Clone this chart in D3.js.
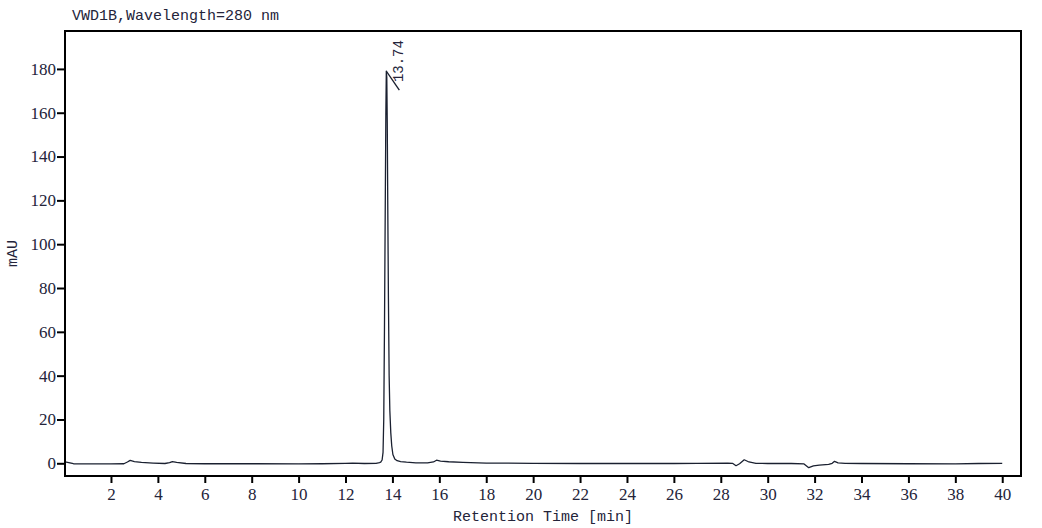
<!DOCTYPE html>
<html>
<head>
<meta charset="utf-8">
<script src="https://cdn.jsdelivr.net/npm/d3@7"></script>
<style>
  html, body { margin: 0; padding: 0; background: #fff; }
  svg { display: block; }
  .tick text { font-family: 'Liberation Serif', 'DejaVu Serif', serif !important; }
</style>
</head>
<body>
<svg id="chart" width="1042" height="528"></svg>
<script>
// ---- data ----
const title = "VWD1B,Wavelength=280 nm";
const xLabel = "Retention Time [min]";
const yLabel = "mAU";
const xTicks = [2,4,6,8,10,12,14,16,18,20,22,24,26,28,30,32,34,36,38,40];
const yTicks = [0,20,40,60,80,100,120,140,160,180];
const peakTime = 13.74;
const peakLabel = "13.74";
const times = [
  0.04, 0.2, 0.4, 1.0, 2.0, 2.55, 2.7, 2.82, 3.0, 3.3, 3.8, 4.3, 4.5, 4.62, 4.8, 5.2,
  6, 8, 10, 11, 12, 12.3, 12.8, 13.3, 13.45,
  13.50, 13.56, 13.60, 13.63, 13.66, 13.69, 13.72, 13.74, 13.76, 13.78, 13.80, 13.83,
  13.86, 13.89, 13.93, 13.97, 14.02, 14.10, 14.20, 14.35, 14.6,
  15.0, 15.5, 15.75, 15.88, 16.05, 16.4, 17.0, 18.0, 20, 22, 24, 26, 27, 28.3, 28.5,
  28.65, 28.8, 29.0, 29.2, 29.5, 30, 31.0, 31.55, 31.75, 31.95, 32.2, 32.6, 32.75,
  32.85, 33.0, 33.3, 34, 36, 38, 39, 40
];
const values = [
  0.6, 0.3, -0.2, -0.3, -0.3, -0.2, 0.6, 1.3, 0.8, 0.4, 0.1, -0.1, 0.3, 0.8, 0.4, -0.1,
  -0.2, -0.2, -0.3, -0.2, 0.0, 0.1, -0.1, 0.0, 0.3,
  0.5, 1.5, 5, 20, 60, 110, 160, 179, 176, 155, 120, 75,
  40, 24, 14, 8, 4, 2, 1.2, 0.8, 0.5,
  0.2, 0.2, 0.6, 1.4, 1.0, 0.7, 0.4, 0.1, 0.0, -0.1, -0.1, -0.1, 0.0, 0.1, 0.0,
  -1.1, -0.2, 1.6, 0.6, 0.0, -0.1, -0.1, -0.3, -2.0, -1.2, -0.8, -0.5, 0.0,
  0.9, 0.2, 0.0, -0.1, -0.2, -0.3, -0.1, 0.0
];

// ---- layout ----
const svg = d3.select("#chart");
const L = 65, R = 1021, T = 31, B = 476;
const x = d3.scaleLinear().domain([0.04, 40.80]).range([L, R]);
const y = d3.scaleLinear().domain([-5.8, 197.3]).range([B, T]);
const textColor = "#24243a";
const serif = "'Liberation Serif', 'DejaVu Serif', serif";
const mono = "'Liberation Mono', 'DejaVu Sans Mono', monospace";

// title
svg.append("text").attr("x", 72).attr("y", 20)
  .attr("font-family", mono).attr("font-size", 15).attr("fill", textColor)
  .text(title);

// line
const pts = times.map((t, i) => [t, values[i]]);
const line = d3.line().x(d => x(d[0])).y(d => y(d[1]));
svg.append("path").datum(pts).attr("d", line)
  .attr("fill", "none").attr("stroke", "#1a2030").attr("stroke-width", 1.3)
  .attr("stroke-linejoin", "round");

// peak marker
const pv = values[times.indexOf(peakTime)];
svg.append("line")
  .attr("x1", x(peakTime)).attr("y1", y(pv))
  .attr("x2", x(peakTime) + 13).attr("y2", y(pv) + 19)
  .attr("stroke", "#1a2030").attr("stroke-width", 1.3);
svg.append("text")
  .attr("transform", `translate(${x(peakTime) + 17},${y(pv) + 11}) rotate(-90)`)
  .attr("font-family", mono).attr("font-size", 14).attr("fill", textColor)
  .text(peakLabel);

// frame
svg.append("rect").attr("x", L).attr("y", T).attr("width", R - L).attr("height", B - T)
  .attr("fill", "none").attr("stroke", "#000").attr("stroke-width", 2);

// axes
const xAxis = svg.append("g").attr("transform", `translate(0,${B})`)
  .call(d3.axisBottom(x).tickValues(xTicks).tickSize(7).tickPadding(5).tickFormat(d3.format("d")));
const yAxis = svg.append("g").attr("transform", `translate(${L},0)`)
  .call(d3.axisLeft(y).tickValues(yTicks).tickSize(8).tickPadding(1).tickFormat(d3.format("d")));
[xAxis, yAxis].forEach(g => {
  g.attr("font-family", serif);
  g.select(".domain").remove();
  g.selectAll(".tick line").attr("stroke", "#000").attr("stroke-width", 2);
  g.selectAll(".tick text").attr("font-family", serif).attr("font-size", 17).attr("fill", textColor);
});

// axis labels
svg.append("text").attr("x", (L + R) / 2).attr("y", 521).attr("text-anchor", "middle")
  .attr("font-family", mono).attr("font-size", 15).attr("fill", textColor)
  .text(xLabel);
svg.append("text").attr("transform", `translate(17,${(T + B) / 2}) rotate(-90)`)
  .attr("text-anchor", "middle")
  .attr("font-family", mono).attr("font-size", 15).attr("fill", textColor)
  .text(yLabel);
</script>
</body>
</html>
